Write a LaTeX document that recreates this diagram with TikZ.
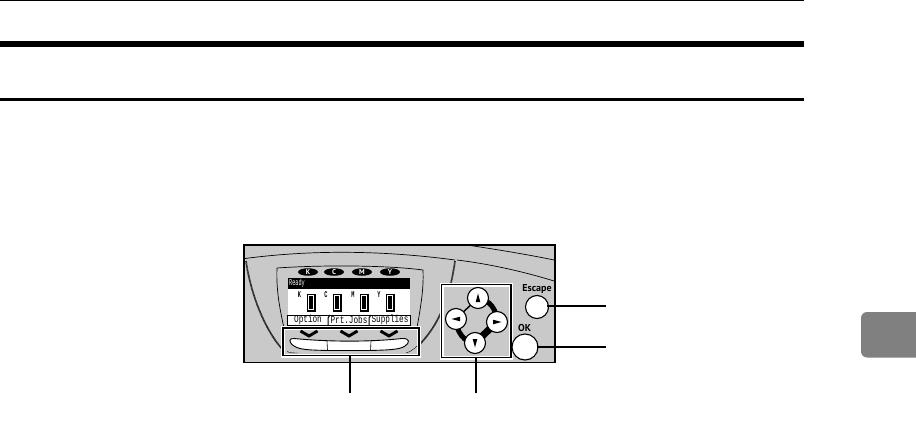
\documentclass[tikz,border=0pt]{standalone}
\usepackage{fontspec}
\usepackage{graphicx}
\setmainfont{PT Sans}
\newfontfamily\lcd{Liberation Mono}
\usetikzlibrary{shapes.geometric}
\definecolor{panelgray}{HTML}{C9C9C9}
\definecolor{tabgray}{HTML}{808080}
\newcommand{\tallsm}[1]{\scalebox{1}[1.7]{#1}}
\newcommand{\talltab}[1]{\scalebox{1}[1.35]{#1}}
\tikzset{
  x=1pt,y=-1pt,
  round btn/.style={circle,draw=black,line width=1.1pt,fill=white,inner sep=0pt,minimum size=#1},
  ink oval/.style={ellipse,fill=black,text=white,inner sep=0pt,minimum width=20pt,minimum height=7.5pt,font=\bfseries\fontsize{7}{7}\selectfont},
  lcd lab/.style={inner sep=0pt,font=\lcd\fontsize{5.2}{5.5}\selectfont},
  tab lab/.style={inner sep=0pt,font=\lcd\fontsize{7.7}{8}\selectfont},
  halo/.style={draw=white,line width=4pt,fill=panelgray},
  boxline/.style={draw=black,line width=1.9pt},
  leader/.style={draw=black,line width=2pt},
  arc line/.style={draw=black,line width=0.7pt},
  hatch line/.style={draw=black!85,line width=1.7pt,dash pattern=on 0.9pt off 0.4pt},
  btn lab/.style={inner sep=0pt,font=\bfseries\fontsize{10}{10}\selectfont},
  bar outer/.style={fill=black},
  bar mid/.style={fill=white},
}
\begin{document}
\begin{tikzpicture}
\useasboundingbox (0,0) rectangle (916,428);
% page rules
\fill (0,0) rectangle (804,1.2);
\fill (0,41.2) rectangle (804,47);
\fill (0,98) rectangle (804,101);
\fill[tabgray,rounded corners=6pt] (861,312) rectangle (930,357.5);
% panel
\draw[fill=panelgray,line width=1.8pt] (243.8,245) rectangle (555,362.5);
% arcs
\draw[arc line] (245,258.5) .. controls (310,250) and (380,250) .. (455,260);
\draw[arc line] (457,260) .. controls (490,264) and (525,272) .. (554,281);
\draw[arc line] (467,245) .. controls (500,250) and (530,255) .. (554,260);
\draw[hatch line] (455,261) .. controls (451,290) and (442,322) .. (419,345);
\draw[hatch line] (246,261) .. controls (250,290) and (263,328) .. (283,350);
\draw[arc line] (277,268) .. controls (320,265) and (385,265) .. (423,270);
\draw[arc line] (277,268) .. controls (276,290) and (280,310) .. (284,328);
\draw[arc line] (423,270) .. controls (424,290) and (420,310) .. (417,328);
% ink ovals
\node[ink oval] (ok) at (308,272) {K};
\node[ink oval] (oc) at (334,272) {C};
\node[ink oval] (om) at (362,272) {M};
\node[ink oval] (oy) at (390,272) {Y};
% display
\fill[white] (288,278) rectangle (410,325);
\fill[black] (287.5,278) rectangle (410,289);
\node[lcd lab,text=white,anchor=west] (ready) at (289,283.5) {\tallsm{Ready}};
\foreach \nm/\lx/\bx in {K/299.5/311,C/326/337,M/353/364,Y/379/390}{
  \node[lcd lab,font=\lcd\bfseries\fontsize{5.2}{5.5}\selectfont] (l\nm) at (\lx,295) {\tallsm{\nm}};
  \fill[bar outer] (\bx-4.5,293.5) rectangle (\bx+4.5,311.5);
  \fill[bar mid] (\bx-2.9,295) rectangle (\bx+2.9,310);
  \fill[bar outer] (\bx-2,295.5) rectangle (\bx+2,309.2);
}
\draw[line width=1pt] (287.5,325) -- (287.5,315) -- (410,315) -- (410,325) -- cycle;
\draw[line width=1pt] (328,325) -- (328,318) -- (330,315);
\draw[line width=1pt] (369,325) -- (369,318) -- (371,315);
\node[tab lab] (t1) at (308,320) {\talltab{Option}};
\node[tab lab] (t2) at (349,320) {\talltab{Prt.Jobs}};
\node[tab lab] (t3) at (390,320) {\talltab{Supplies}};
% soft key box
\draw[halo] (283,328) rectangle (419,355.5);
\draw[boxline] (283,328) rectangle (419,355.5);
\draw[line width=0.4pt] (287,351.5) .. controls (290,353) and (294,353) .. (298,353);
\draw[line width=0.4pt] (406,353) .. controls (410,352) and (414,349) .. (417,346);
\foreach \cx in {309,349,389}{
  \draw[line width=2.9pt] (\cx-8.5,331) -- (\cx,336) -- (\cx+8.5,331);
}
\draw[fill=white,line width=0.9pt] (294,338.5) .. controls (330,342) and (370,342) .. (402,338.5)
  .. controls (410,338) and (410,343) .. (405,346)
  .. controls (400,350) and (385,350) .. (370,350.5) -- (328,350.5)
  .. controls (310,350) and (300,350) .. (294,346)
  .. controls (288,342) and (289,338) .. (294,338.5) -- cycle;
\draw[line width=0.6pt] (327,341) -- (327.5,350.5);
\draw[line width=0.6pt] (371,341) -- (370.5,350.5);
% nav box
\draw[halo] (441.5,284.5) rectangle (511,357.5);
\draw[boxline] (441.5,284.5) rectangle (511,357.5);
\draw[line width=1.4pt] (456,319) -- (478,298);
\draw[line width=5pt] (478,298) .. controls (490,300) and (497,310) .. (497,322);
\draw[line width=5pt] (456,319) .. controls (456,332) and (465,343) .. (475,343);
\draw[line width=7pt] (475,343) -- (497,322);
\node[round btn=21pt] (up) at (478,298) {};
\node[round btn=21pt] (lf) at (456,319) {};
\node[round btn=21pt] (rt) at (497,322) {};
\node[round btn=21pt] (dn) at (475,343) {};
\fill (up.center)+(0,-4.5) -- +(2.3,4) -- +(-2.3,4) -- cycle;
\fill (dn.center)+(0,4.5) -- +(2.3,-4) -- +(-2.3,-4) -- cycle;
\fill (lf.center)+(-4.5,0) -- +(4,-2.3) -- +(4,2.3) -- cycle;
\fill (rt.center)+(4.5,0) -- +(-4,-2.3) -- +(-4,2.3) -- cycle;
% escape and ok
\node[btn lab] (esc) at (537,289.3) {Escape};
\node[btn lab] (oklab) at (524.5,328) {OK};
\node[round btn=23pt] (escb) at (537,307) {};
\node[round btn=26pt] (okb) at (525,347) {};
% leaders
\coordinate (e1) at (606,306);
\coordinate (e2) at (606,346.7);
\coordinate (s3) at (350,355);
\coordinate (e3) at (350,393);
\coordinate (s4) at (476,357);
\coordinate (e4) at (476,393);
\draw[leader] (escb.center) ++(10,-1) -- (e1);
\draw[leader] (okb.center) ++(12,-0.3) -- (e2);
\draw[leader] (s3) -- (e3);
\draw[leader] (s4) -- (e4);
\end{tikzpicture}
\end{document}
